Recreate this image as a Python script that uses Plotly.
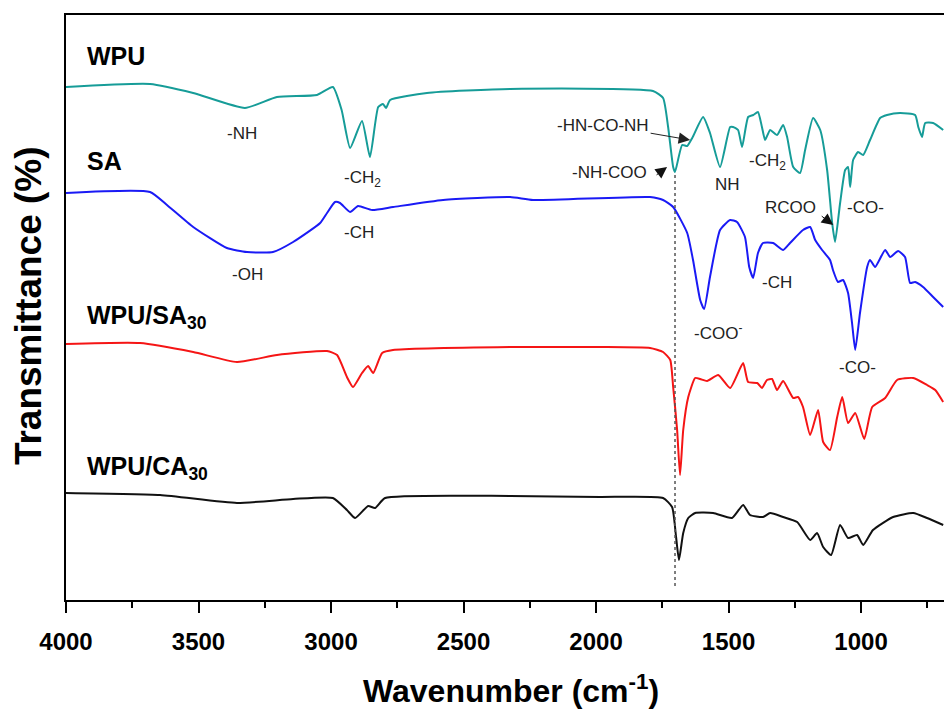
import plotly.graph_objects as go

# ---------------- data (wavenumber in cm-1, transmittance in a.u., stacked) ----------------
wpu_wn = [4000, 3683, 3520, 3325, 3204, 3053, 2993, 2960, 2928, 2883, 2853, 2822, 2804, 2792, 2777,
          2638, 2324, 1785, 1747, 1728, 1709, 1702, 1675, 1656, 1637, 1596, 1570, 1532, 1494, 1483,
          1464, 1449, 1426, 1407, 1389, 1374, 1362, 1343, 1317, 1294, 1279, 1256, 1230, 1211, 1181,
          1154, 1128, 1109, 1098, 1079, 1060, 1049, 1041, 1030, 1011, 992, 966, 928, 902, 853,
          796, 784, 770, 758, 728, 690]
wpu_t = [513, 516, 507, 492, 503, 505, 513, 490, 452, 479, 443, 493, 496, 492, 500,
         507, 511, 509, 502, 473, 433, 428, 455, 454, 462, 483, 467, 433, 473, 473,
         470, 453, 483, 485, 488, 473, 460, 470, 465, 475, 463, 433, 427, 450, 482,
         470, 430, 377, 358, 397, 430, 433, 413, 440, 448, 445, 460, 482, 485, 487,
         485, 473, 463, 477, 477, 470]

sa_wn = [4000, 3683, 3619, 3520, 3393, 3317, 3219, 3143, 3041, 3015, 2985, 2966, 2928, 2898, 2845,
         2766, 2577, 2324, 2238, 1796, 1747, 1709, 1656, 1634, 1607, 1592, 1570, 1532, 1494, 1468,
         1438, 1422, 1407, 1389, 1370, 1332, 1294, 1268, 1219, 1192, 1173, 1147, 1117, 1106, 1087,
         1068, 1049, 1034, 1022, 1004, 977, 966, 947, 909, 890, 860, 834, 815, 796, 766, 728, 690]
sa_t = [407, 408, 395, 373, 352, 348, 348, 358, 377, 387, 398, 397, 388, 394, 390,
        393, 400, 403, 400, 403, 400, 393, 367, 340, 300, 291, 323, 370, 380, 378,
        363, 333, 322, 347, 357, 357, 350, 357, 370, 373, 360, 350, 340, 330, 318,
        320, 307, 277, 250, 287, 333, 340, 333, 350, 343, 349, 343, 317, 318, 313, 303, 293]

wpusa_wn = [4000, 3721, 3520, 3355, 3204, 3015, 2977, 2940, 2917, 2883, 2860, 2841, 2807, 2766, 2324,
            1985, 1796, 1747, 1720, 1709, 1694, 1683, 1671, 1652, 1626, 1607, 1581, 1539, 1494, 1445,
            1426, 1392, 1374, 1355, 1336, 1317, 1294, 1256, 1238, 1219, 1192, 1162, 1143, 1117, 1090,
            1071, 1049, 1022, 988, 958, 909, 864, 803, 751, 720, 690]
wpusa_t = [256, 257, 248, 238, 245, 249, 245, 223, 213, 227, 234, 227, 247, 250, 253,
           253, 252, 248, 240, 213, 170, 125, 170, 203, 222, 221, 219, 225, 212, 237,
           218, 217, 212, 220, 221, 210, 219, 202, 203, 193, 165, 190, 158, 150, 183,
           203, 177, 187, 161, 193, 202, 220, 222, 215, 210, 198]

wpuca_wn = [4000, 3645, 3355, 3143, 2993, 2940, 2909, 2860, 2834, 2796, 2324, 1985, 1747, 1713, 1698,
            1687, 1671, 1652, 1626, 1558, 1487, 1445, 1419, 1370, 1343, 1294, 1241, 1192, 1166, 1143,
            1113, 1079, 1049, 1015, 992, 955, 879, 803, 751, 690]
wpuca_t = [107, 105, 97, 101, 102, 90, 82, 94, 92, 102, 104, 103, 102, 93, 63,
           40, 67, 82, 87, 87, 82, 95, 85, 83, 87, 83, 78, 60, 67, 53,
           45, 75, 62, 65, 55, 70, 83, 87, 82, 75]

series_names = ["WPU", "SA", "WPU/SA<sub>30</sub>", "WPU/CA<sub>30</sub>"]
series_colors = ["#169C98", "#1A1AF5", "#F51515", "#111111"]
label_y = [544, 439, 283, 132]

x_ticks = [4000, 3500, 3000, 2500, 2000, 1500, 1000]
ref_wn = 1702  # dotted reference line (urethane C=O)

# peak annotations: (text, wavenumber, transmittance)
peak_labels = [
    ("-NH", 3336, 467), ("-CH<sub>2</sub>", 2883, 421), ("-CH", 2894, 368), ("-OH", 3317, 326),
    ("-NH-COO", 1951, 428), ("NH", 1505, 416),
    ("-CH<sub>2</sub>", 1354, 438), ("RCOO", 1268, 393), ("-CO-", 985, 393),
    ("-COO<sup>-</sup>", 1539, 268), ("-CH", 1317, 318), ("-CO-", 1015, 233),
]

# ---------------- figure ----------------
fig = go.Figure()
for wn, t, name, col in zip([wpu_wn, sa_wn, wpusa_wn, wpuca_wn],
                            [wpu_t, sa_t, wpusa_t, wpuca_t], series_names, series_colors):
    fig.add_trace(go.Scatter(x=wn, y=t, mode="lines", name=name,
                             line=dict(color=col, width=2, shape="spline", smoothing=0.5),
                             showlegend=False, hoverinfo="skip"))

fig.add_shape(type="line", x0=ref_wn, x1=ref_wn, y0=14, y1=wpu_t[wpu_wn.index(ref_wn)],
              xref="x", yref="y", line=dict(color="#555555", width=1.5, dash="dot"))

FONT = "Liberation Sans, Arial, sans-serif"
ann = []
for name, y in zip(series_names, label_y):
    ann.append(dict(text=name, x=3928, y=y, xref="x", yref="y", xanchor="left", yanchor="middle",
                    showarrow=False, font=dict(family=FONT, size=25, color="#000", weight="bold")))
for txt, x, y in peak_labels:
    ann.append(dict(text=txt, x=x, y=y, xref="x", yref="y", showarrow=False,
                    font=dict(family=FONT, size=17, color="#222")))

# labelled arrow for -HN-CO-NH
ann.append(dict(text="-HN-CO-NH", x=1645, y=460, xref="x", yref="y", ax=-87, ay=-15,
                showarrow=True, arrowhead=2, arrowsize=2.3, arrowwidth=1, arrowcolor="#222",
                font=dict(family=FONT, size=17, color="#222")))
# bare arrowheads
ann.append(dict(text="", x=1732, y=433, xref="x", yref="y", ax=-12, ay=9, showarrow=True,
                arrowhead=2, arrowsize=2.3, arrowwidth=1, arrowcolor="#111"))
ann.append(dict(text="", x=1105, y=375, xref="x", yref="y", ax=-13, ay=-10, showarrow=True,
                arrowhead=2, arrowsize=2.3, arrowwidth=1, arrowcolor="#111"))

# axis titles
ann.append(dict(text="Transmittance (%)", x=-0.042, y=0.5026, xref="paper", yref="paper",
                xanchor="center", yanchor="middle", textangle=-90, showarrow=False,
                font=dict(family=FONT, size=37, color="#000", weight="bold")))
ann.append(dict(text="Wavenumber (cm<sup>-1</sup>)", x=0.507, y=-0.152, xref="paper", yref="paper",
                xanchor="center", yanchor="middle", showarrow=False,
                font=dict(family=FONT, size=32, color="#000", weight="bold")))

fig.update_layout(
    width=944, height=709,
    margin=dict(l=66, r=0, t=15, b=109),
    paper_bgcolor="white", plot_bgcolor="white",
    annotations=ann,
    xaxis=dict(range=[4000, 687], tickmode="array", tickvals=x_ticks,
               ticktext=[str(v) for v in x_ticks],
               ticks="outside", ticklen=11, tickwidth=2, tickcolor="#000",
               minor=dict(tickmode="linear", tick0=0, dtick=250, ticks="outside", ticklen=6,
                          tickwidth=2, tickcolor="#000"),
               showline=True, linecolor="#000", linewidth=2, mirror=True,
               showgrid=False, zeroline=False,
               tickfont=dict(family=FONT, size=24, color="#000", weight="bold"),
               ticklabelstandoff=8),
    yaxis=dict(range=[0, 585], showline=True, linecolor="#000", linewidth=2,
               showticklabels=False, ticks="", showgrid=False, zeroline=False),
)

fig.write_html("out.html")
